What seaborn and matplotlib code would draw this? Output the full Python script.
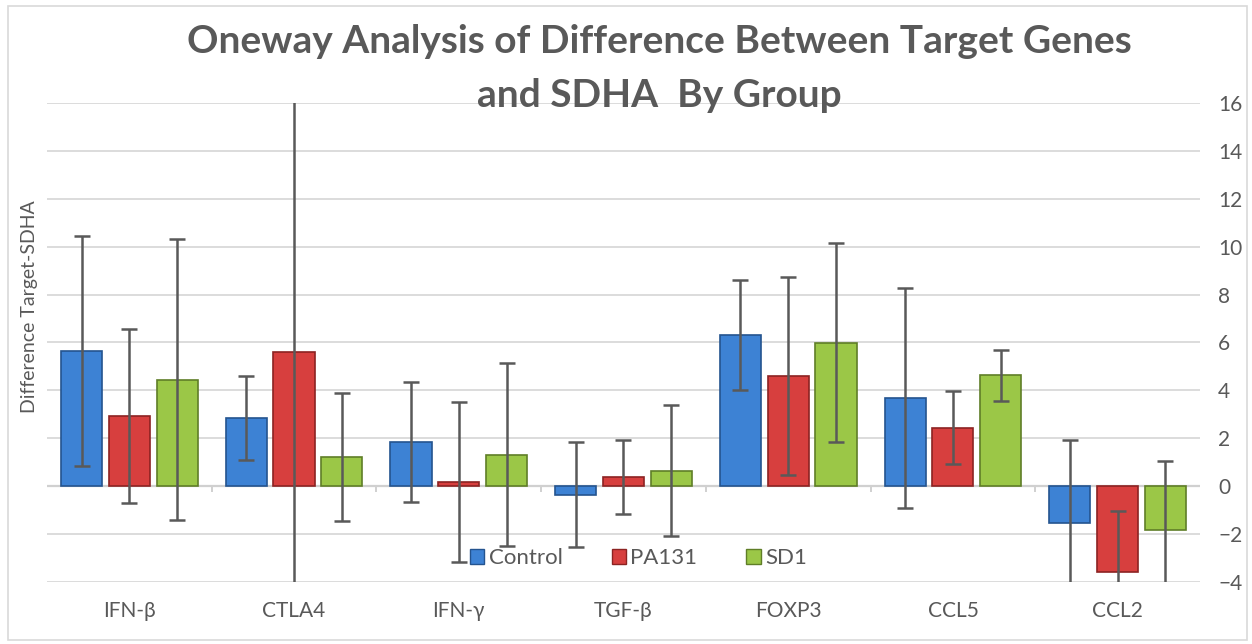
import pandas as pd
import matplotlib.pyplot as plt
import seaborn as sns
from matplotlib.patches import Patch, Rectangle

# Values
genes = ['IFN-β', 'CTLA4', 'IFN-γ', 'TGF-β', 'FOXP3', 'CCL5', 'CCL2']
groups = ['Control', 'PA131', 'SD1']
control_mean = [5.66, 2.84, 1.85, -0.36, 6.32, 3.69, -1.54]
control_err = [4.80, 1.75, 2.50, 2.20, 2.30, 4.60, 3.48]
pa131_mean = [2.94, 5.58, 0.18, 0.37, 4.58, 2.44, -3.57]
pa131_err = [3.64, 11.0, 3.35, 1.55, 4.13, 1.53, 2.55]
sd1_mean = [4.45, 1.20, 1.32, 0.65, 5.99, 4.62, -1.84]
sd1_err = [5.86, 2.67, 3.80, 2.75, 4.15, 1.08, 2.88]
y_ticks = [-4, -2, 0, 2, 4, 6, 8, 10, 12, 14, 16]

means = {'Control': control_mean, 'PA131': pa131_mean, 'SD1': sd1_mean}
errs = {'Control': control_err, 'PA131': pa131_err, 'SD1': sd1_err}

# long table for seaborn
rows = []
for g in groups:
    for gene, m in zip(genes, means[g]):
        rows.append({'gene': gene, 'group': g, 'value': m})
df = pd.DataFrame(rows)

colors = {'Control': '#3D82D4', 'PA131': '#D73F3E', 'SD1': '#9BC747'}
edges = {'Control': '#24548F', 'PA131': '#8C2322', 'SD1': '#5F7E27'}
grey = '#595959'

sns.set_style('white')
plt.rcParams['font.family'] = ['Lato', 'DejaVu Sans']

fig = plt.figure(figsize=(12.52, 6.44), dpi=100)
ax = fig.add_axes([0.0375, 0.0963, 0.921, 0.744])

sns.barplot(data=df, x='gene', y='value', hue='group', order=genes,
            hue_order=groups, palette=colors, errorbar=None, saturation=1,
            width=0.87, gap=0.14, ax=ax, legend=False, zorder=3)

for cont, g in zip(ax.containers, groups):
    xs = []
    for p in cont:
        p.set_edgecolor(edges[g])
        p.set_linewidth(1.2)
        xs.append(p.get_x() + p.get_width() / 2)
    ax.errorbar(xs, means[g], yerr=errs[g], fmt='none', ecolor=grey,
                elinewidth=1.8, capsize=6, capthick=1.8, zorder=4)

ax.set_ylim(-4, 16)
ax.set_xlim(-0.5, len(genes) - 0.5)
ax.set_yticks(y_ticks)
ax.yaxis.tick_right()
ax.grid(axis='y', color='#D9D9D9', linewidth=1.3, zorder=0)
ax.axhline(0, color='#D0D0D0', linewidth=1.6, zorder=1)
ax.vlines([i + 0.5 for i in range(len(genes) - 1)], -0.25, 0,
          color='#D0D0D0', linewidth=1.4, zorder=1)
for s in ax.spines.values():
    s.set_visible(False)
ax.tick_params(axis='both', length=0, labelsize=15, labelcolor=grey)
ax.tick_params(axis='x', pad=14)
ax.tick_params(axis='y', pad=13)
ax.set_xlabel('')
ax.set_ylabel('Difference Target-SDHA', fontsize=14, color=grey)
ax.yaxis.set_label_position('left')
ax.yaxis.set_label_coords(-0.008, 0.574)

handles = [Patch(facecolor=colors[g], edgecolor=edges[g]) for g in groups]
ax.legend(handles, groups, loc='center', bbox_to_anchor=(0.513, 0.05),
          ncol=3, frameon=False, fontsize=16, labelcolor=grey,
          handlelength=0.65, handleheight=0.65, handletextpad=0.2,
          columnspacing=2.2)

fig.text(0.527, 0.935, 'Oneway Analysis of Difference Between Target Genes',
         ha='center', va='center', fontsize=28, fontweight='bold', color=grey)
fig.text(0.527, 0.852, 'and SDHA  By Group', ha='center', va='center',
         fontsize=28, fontweight='bold', color=grey)

fig.patches.append(Rectangle((0.006, 0.006), 0.99, 0.985, transform=fig.transFigure,
                             fill=False, edgecolor='#D9D9D9', linewidth=1.2))

plt.savefig('out.png', dpi=100)
